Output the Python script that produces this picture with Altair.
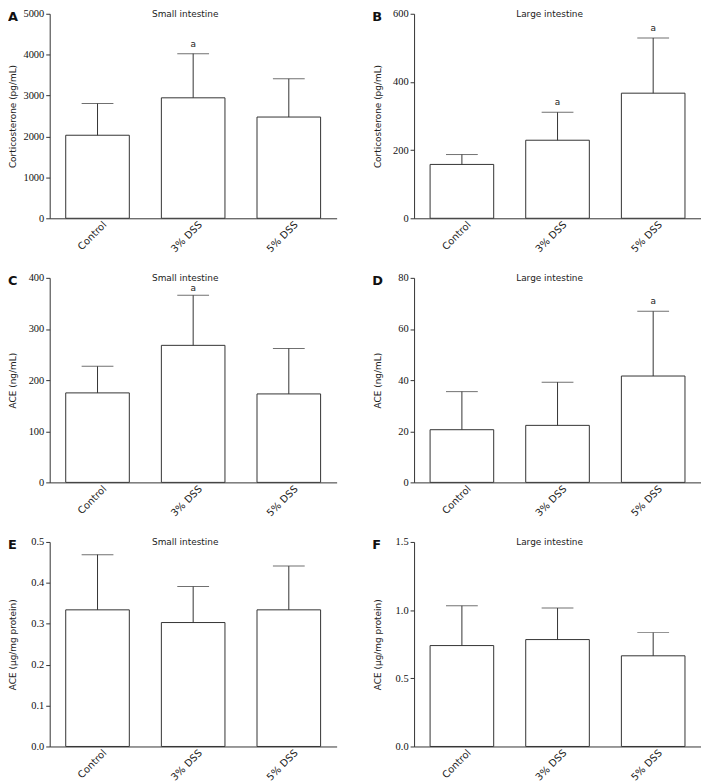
import altair as alt
import pandas as pd

groups = ["Control", "3% DSS", "5% DSS"]
letters = ["A", "B", "C", "D", "E", "F"]
titles = ["Small intestine", "Large intestine", "Small intestine",
          "Large intestine", "Small intestine", "Large intestine"]
ytitles = ["Corticosterone (pg/mL)", "Corticosterone (pg/mL)",
           "ACE (ng/mL)", "ACE (ng/mL)",
           "ACE (\u03bcg/mg protein)", "ACE (\u03bcg/mg protein)"]

# means and SD (upper error)
mean_A = [2030, 2945, 2475]
sd_A = [775, 1080, 935]
mean_B = [158, 229, 367]
sd_B = [29, 82, 162]
mean_C = [175, 268, 173]
sd_C = [52, 98, 89]
mean_D = [20.6, 22.3, 41.6]
sd_D = [14.9, 16.9, 25.3]
mean_E = [0.334, 0.303, 0.334]
sd_E = [0.135, 0.088, 0.107]
mean_F = [0.740, 0.784, 0.665]
sd_F = [0.292, 0.231, 0.170]

sig_A = ["", "a", ""]
sig_B = ["", "a", "a"]
sig_C = ["", "a", ""]
sig_D = ["", "", "a"]
sig_E = ["", "", ""]
sig_F = ["", "", ""]

ticks_A = [0, 1000, 2000, 3000, 4000, 5000]
ticks_B = [0, 200, 400, 600]
ticks_C = [0, 100, 200, 300, 400]
ticks_D = [0, 20, 40, 60, 80]
ticks_E = [0.0, 0.1, 0.2, 0.3, 0.4, 0.5]
ticks_F = [0.0, 0.5, 1.0, 1.5]

W, H = 289, 206
INK = "#333333"
SANS = "DejaVu Sans"
SERIF = "Liberation Serif"


def panel(letter, title, ytitle, means, sds, sig, ticks, fmt, sig_dy):
    df = pd.DataFrame({
        "group": groups,
        "mean": means,
        "top": [m + s for m, s in zip(means, sds)],
        "sig": sig,
    })
    yscale = alt.Scale(domain=[ticks[0], ticks[-1]], nice=False)
    xenc = alt.X("group:N", sort=groups,
                 scale=alt.Scale(paddingInner=0.335, paddingOuter=0.1675),
                 axis=alt.Axis(title=None, labelAngle=-45, ticks=False,
                               labelFont=SANS, labelFontSize=10,
                               labelColor="#222222", labelPadding=1,
                               domainColor=INK, labelOffset=4))
    base = alt.Chart(df)
    bars = base.mark_bar(fill="white", stroke=INK, strokeWidth=1).encode(
        x=xenc,
        y=alt.Y("mean:Q", scale=yscale,
                axis=alt.Axis(values=ticks, format=fmt, title=ytitle,
                              titleFont=SANS, titleFontSize=9,
                              titleFontWeight="normal", titleColor="#222222",
                              titleX=-37, titleY=H / 2, titleAngle=-90,
                              titleBaseline="middle", titleAlign="center",
                              labelFont=SERIF, labelFontSize=10.5,
                              labelColor="#111111", labelPadding=2,
                              tickSize=4, tickColor=INK, domainColor=INK,
                              grid=False)),
    )
    err = base.mark_rule(color=INK, strokeWidth=1).encode(
        x=alt.X("group:N", sort=groups), y="mean:Q", y2="top:Q")
    cap = base.mark_tick(color=INK, size=32, thickness=1,
                         orient="horizontal").encode(
        x=alt.X("group:N", sort=groups), y="top:Q")
    sigt = base.mark_text(dy=sig_dy, font=SANS, fontSize=9,
                          color="#222222", baseline="middle").encode(
        x=alt.X("group:N", sort=groups), y="top:Q", text="sig:N")
    ttl = alt.Chart(pd.DataFrame({"t": [title]})).mark_text(
        font=SANS, fontSize=9, color="#222222", baseline="middle",
        align="center").encode(x=alt.value(W / 2 - 8), y=alt.value(0),
                               text="t:N")
    let = alt.Chart(pd.DataFrame({"t": [letter]})).mark_text(
        font=SANS, fontSize=13, fontWeight="bold", color="#111111",
        baseline="middle", align="left").encode(
        x=alt.value(-42), y=alt.value(3), text="t:N")
    return alt.layer(bars, err, cap, sigt, ttl, let).properties(
        width=W, height=H)


panels = [
    panel(letters[0], titles[0], ytitles[0], mean_A, sd_A, sig_A, ticks_A, "d", -10),
    panel(letters[1], titles[1], ytitles[1], mean_B, sd_B, sig_B, ticks_B, "d", -10),
    panel(letters[2], titles[2], ytitles[2], mean_C, sd_C, sig_C, ticks_C, "d", -7),
    panel(letters[3], titles[3], ytitles[3], mean_D, sd_D, sig_D, ticks_D, "d", -10),
    panel(letters[4], titles[4], ytitles[4], mean_E, sd_E, sig_E, ticks_E, ".1f", -10),
    panel(letters[5], titles[5], ytitles[5], mean_F, sd_F, sig_F, ticks_F, ".1f", -10),
]

chart = alt.concat(*panels, columns=2, spacing={"row": 60, "column": 78},
                   bounds="flush").configure_view(stroke=None).properties(
    padding={"top": -2, "left": 0, "right": 0, "bottom": 0},
    background="white")

chart.save("out.html", embed_options={"renderer": "svg", "actions": False})
